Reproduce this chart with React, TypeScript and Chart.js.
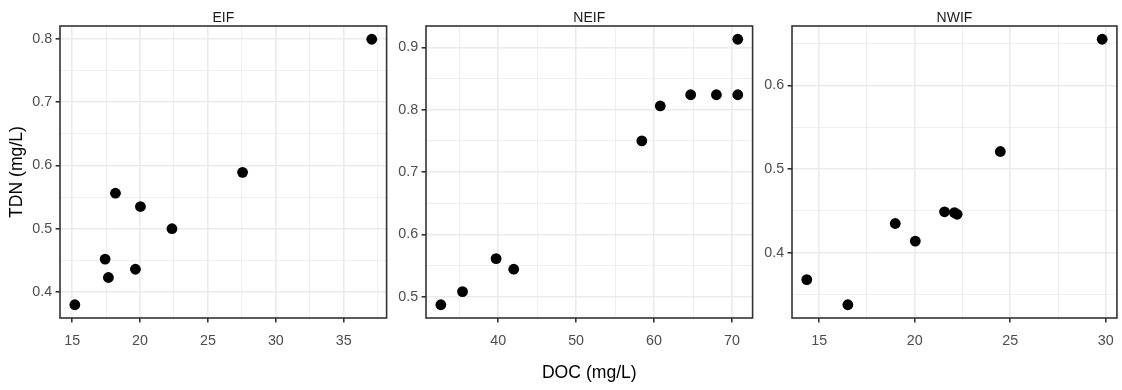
import React, { useEffect, useRef } from "react";
import { Chart, registerables } from "chart.js";

Chart.register(...registerables);

// ---- data ----
const EIF_DOC = [15.2, 17.43, 17.67, 18.19, 19.66, 20.03, 22.35, 27.55, 37.06];
const EIF_TDN = [0.38, 0.452, 0.423, 0.556, 0.436, 0.535, 0.5, 0.589, 0.799];

const NEIF_DOC = [32.65, 35.43, 39.74, 42.0, 58.43, 60.8, 64.7, 68.0, 70.74, 70.74];
const NEIF_TDN = [0.487, 0.508, 0.561, 0.544, 0.75, 0.806, 0.824, 0.824, 0.824, 0.913];

const NWIF_DOC = [14.35, 16.5, 18.98, 20.03, 21.56, 22.08, 22.22, 24.48, 29.81];
const NWIF_TDN = [0.368, 0.338, 0.435, 0.414, 0.449, 0.448, 0.446, 0.521, 0.655];

const EIF_X_TICKS = [15, 20, 25, 30, 35];
const EIF_Y_TICKS = [0.4, 0.5, 0.6, 0.7, 0.8];
const NEIF_X_TICKS = [40, 50, 60, 70];
const NEIF_Y_TICKS = [0.5, 0.6, 0.7, 0.8, 0.9];
const NWIF_X_TICKS = [15, 20, 25, 30];
const NWIF_Y_TICKS = [0.4, 0.5, 0.6];

const PANEL_TITLES = ["EIF", "NEIF", "NWIF"];
const X_TITLE = "DOC (mg/L)";
const Y_TITLE = "TDN (mg/L)";

const FONT = '"Liberation Sans", Arial, Helvetica, sans-serif';

type Panel = {
  title: string;
  xs: number[];
  ys: number[];
  xTicks: number[];
  yTicks: number[];
  left: number;
  right: number;
  showY: boolean;
  showX: boolean;
};

const PANELS: Panel[] = [
  { title: PANEL_TITLES[0], xs: EIF_DOC, ys: EIF_TDN, xTicks: EIF_X_TICKS, yTicks: EIF_Y_TICKS, left: 60, right: 388, showY: true, showX: false },
  { title: PANEL_TITLES[1], xs: NEIF_DOC, ys: NEIF_TDN, xTicks: NEIF_X_TICKS, yTicks: NEIF_Y_TICKS, left: 426, right: 754, showY: false, showX: true },
  { title: PANEL_TITLES[2], xs: NWIF_DOC, ys: NWIF_TDN, xTicks: NWIF_X_TICKS, yTicks: NWIF_Y_TICKS, left: 792, right: 1120, showY: false, showX: false },
];

const Y_AXIS_W = 60;
const PAD_R = 4;
const H = 390;
const PLOT_BOTTOM = 318;

function expand(vals: number[]) {
  const lo = Math.min(...vals);
  const hi = Math.max(...vals);
  const d = (hi - lo) * 0.05;
  return [lo - d, hi + d];
}

function withMinor(major: number[], lo: number, hi: number) {
  const step = major[1] - major[0];
  const all: number[] = [];
  for (let v = major[0] - step; v <= major[major.length - 1] + step + 1e-9; v += step / 2) {
    const r = Math.round(v * 1e6) / 1e6;
    if (r > lo && r < hi) all.push(r);
  }
  return all;
}

function isMajorOf(major: number[], v: number) {
  return major.some((m) => Math.abs(m - v) < 1e-6);
}

const borderPlugin = {
  id: "panelBorder",
  afterDraw(chart: any) {
    const { ctx, chartArea } = chart;
    ctx.save();
    ctx.strokeStyle = "#333333";
    ctx.lineWidth = 1.6;
    ctx.strokeRect(chartArea.left, chartArea.top, chartArea.right - chartArea.left, chartArea.bottom - chartArea.top);
    ctx.restore();
  },
};

function PanelChart({ p }: { p: Panel }) {
  const ref = useRef<HTMLCanvasElement | null>(null);
  const width = p.right - p.left + Y_AXIS_W + PAD_R;

  useEffect(() => {
    if (!ref.current) return;
    const [xMin, xMax] = expand(p.xs);
    const [yMin, yMax] = expand(p.ys);
    const xAll = withMinor(p.xTicks, xMin, xMax);
    const yAll = withMinor(p.yTicks, yMin, yMax);

    const gridFor = (major: number[]) => ({
      color: "#EBEBEB",
      lineWidth: (c: any) => (c.tick && isMajorOf(major, c.tick.value) ? 1.6 : 0.8),
      tickColor: (c: any) => (c.tick && isMajorOf(major, c.tick.value) ? "#333333" : "rgba(0,0,0,0)"),
      tickWidth: 1.6,
      tickLength: 4.4,
      drawTicks: true,
    });

    const chart = new Chart(ref.current, {
      type: "scatter",
      data: {
        datasets: [
          {
            data: p.xs.map((x, i) => ({ x, y: p.ys[i] })),
            backgroundColor: "#000000",
            borderWidth: 0,
            pointRadius: 5.4,
            pointHoverRadius: 5.4,
          },
        ],
      },
      plugins: [borderPlugin],
      options: {
        responsive: false,
        animation: false,
        events: [],
        layout: { padding: { left: 0, right: PAD_R, top: 0, bottom: 0 } },
        plugins: {
          legend: { display: false },
          tooltip: { enabled: false },
          title: {
            display: true,
            text: p.title,
            fullSize: false,
            color: "#1A1A1A",
            font: { family: FONT, size: 14, lineHeight: 1, weight: "normal" },
            padding: { top: 11.3, bottom: 0.7 },
          },
        },
        scales: {
          x: {
            type: "linear",
            min: xMin,
            max: xMax,
            border: { display: false },
            grid: gridFor(p.xTicks),
            afterBuildTicks: (axis: any) => {
              axis.ticks = xAll.map((v) => ({ value: v }));
            },
            afterFit: (axis: any) => {
              axis.height = H - PLOT_BOTTOM;
            },
            ticks: {
              autoSkip: false,
              maxRotation: 0,
              padding: 10,
              color: "#4D4D4D",
              font: { family: FONT, size: 14.3 },
              callback: (v: any) => (isMajorOf(p.xTicks, Number(v)) ? String(Number(Number(v).toFixed(2))) : ""),
            },
            title: {
              display: p.showX,
              text: X_TITLE,
              color: "#000000",
              font: { family: FONT, size: 17.6 },
              padding: { top: 0, bottom: 6 },
            },
          },
          y: {
            type: "linear",
            min: yMin,
            max: yMax,
            border: { display: false },
            grid: gridFor(p.yTicks),
            afterBuildTicks: (axis: any) => {
              axis.ticks = yAll.map((v) => ({ value: v }));
            },
            afterFit: (axis: any) => {
              axis.width = Y_AXIS_W;
            },
            ticks: {
              autoSkip: false,
              padding: 3.5,
              color: "#4D4D4D",
              font: { family: FONT, size: 14.3 },
              callback: (v: any) => (isMajorOf(p.yTicks, Number(v)) ? String(Number(Number(v).toFixed(2))) : ""),
            },
            title: {
              display: p.showY,
              text: Y_TITLE,
              color: "#000000",
              font: { family: FONT, size: 17.6 },
              padding: { top: 6.1, bottom: 0 },
            },
          },
        },
      } as any,
    });
    return () => chart.destroy();
  }, [p]);

  return (
    <canvas
      ref={ref}
      width={width}
      height={H}
      style={{ position: "absolute", left: p.left - Y_AXIS_W, top: 0, width, height: H }}
    />
  );
}

export default function App() {
  return (
    <div
      style={{
        position: "fixed",
        left: 0,
        top: 0,
        width: 1122,
        height: 390,
        background: "#ffffff",
        overflow: "hidden",
      }}
    >
      {PANELS.map((p) => (
        <PanelChart key={p.title} p={p} />
      ))}
    </div>
  );
}
